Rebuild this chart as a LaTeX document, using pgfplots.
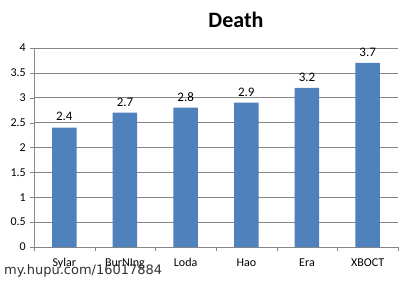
\documentclass[border=0pt]{standalone}
\usepackage{pgfplots}
\pgfplotsset{compat=1.18}
\usepackage{fontspec}
\setmainfont{Carlito}
\newfontfamily\wmfont{DejaVu Sans}
\definecolor{barblue}{RGB}{79,129,189}
\definecolor{gridgray}{RGB}{134,134,134}
\begin{document}
\begin{tikzpicture}
\useasboundingbox[fill=white] (0pt,0pt) rectangle (416pt,282pt);
\begin{axis}[
  at={(34pt,35pt)}, anchor=south west,
  scale only axis, width=364pt, height=199pt,
  xmin=-0.5, xmax=5.5, ymin=0, ymax=4,
  axis x line*=bottom, axis y line*=left,
  axis line style={draw=gridgray, -},
  ytick={0,0.5,...,4},
  yticklabels={0,0.5,1,1.5,2,2.5,3,3.5,4},
  ymajorgrids, grid style={gridgray, line width=0.6pt},
  xtick={0,...,5},
  xticklabels={Sylar,BurNIng,Loda,Hao,Era,XBOCT},
  minor xtick={-0.5,0.5,...,5.5},
  x tick style={draw=none},
  minor x tick style={draw=gridgray},
  y tick style={draw=gridgray},
  tick align=outside,
  major tick length=4pt, minor tick length=4pt,
  ticklabel style={font=\fontsize{12}{14}\selectfont},
  yticklabel style={inner sep=1pt, xshift=-3pt},
  xticklabel style={yshift=-4pt},
  /pgf/number format/assume math mode=true,
  ybar, bar width=24.5pt,
  nodes near coords,
  nodes near coords style={font=\fontsize{13}{15}\selectfont, yshift=3pt},
  point meta=explicit symbolic,
  clip=false,
]
\addplot[fill=barblue, draw=none] coordinates {
  (0,2.4) [2.4] (1,2.7) [2.7] (2,2.8) [2.8] (3,2.9) [2.9] (4,3.2) [3.2] (5,3.7) [3.7]
};
\end{axis}
\node[font=\fontsize{22}{24}\selectfont\bfseries] at (236pt,262pt) {Death};
\node[anchor=west, font=\wmfont\fontsize{13}{15}\selectfont, text=black!80, inner sep=0pt] at (4pt,11pt) {my.hupu.com/16017884};
\end{tikzpicture}
\end{document}
